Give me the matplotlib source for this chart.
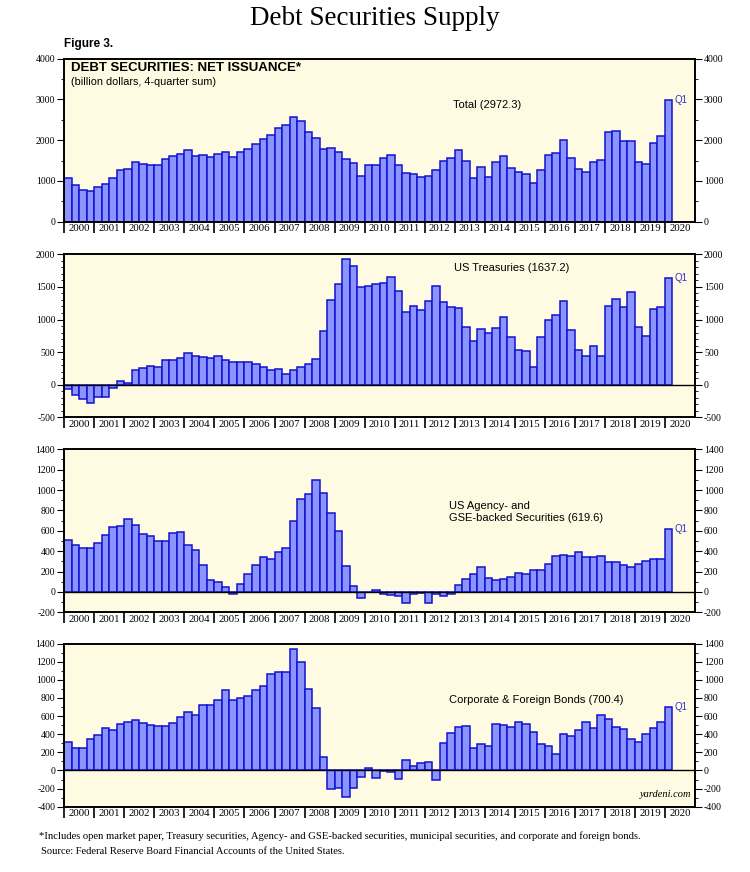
import numpy as np
import matplotlib.pyplot as plt
from matplotlib.ticker import MultipleLocator

plt.rcParams['font.family'] = ['Liberation Serif', 'DejaVu Serif']
plt.rcParams['axes.unicode_minus'] = False

# quarterly net issuance, 4-quarter sum, billion dollars (2000Q1 .. 2020Q1)
total = [1060, 890, 780, 750,
         860, 930, 1080, 1270,
         1300, 1460, 1420, 1400,
         1390, 1530, 1610, 1670,
         1750, 1610, 1630, 1580,
         1670, 1710, 1580, 1710,
         1790, 1910, 2030, 2120,
         2300, 2380, 2570, 2480,
         2190, 2050, 1790, 1810,
         1710, 1540, 1440, 1110,
         1400, 1400, 1550, 1640,
         1380, 1190, 1160, 1090,
         1120, 1260, 1490, 1570,
         1750, 1490, 1080, 1340,
         1100, 1460, 1600, 1320,
         1220, 1180, 940, 1270,
         1630, 1690, 2010, 1570,
         1290, 1210, 1470, 1520,
         2200, 2220, 1990, 1990,
         1470, 1410, 1940, 2110,
         2972.3]

treasuries = [-60, -160, -215, -280,
              -190, -185, -50, 56,
              31, 231, 262, 282,
              267, 374, 385, 416,
              487, 446, 426, 405,
              443, 380, 350, 350,
              350, 325, 275, 220,
              240, 170, 225, 272,
              318, 390, 820, 1305,
              1550, 1920, 1815, 1505,
              1520, 1540, 1560, 1650,
              1436, 1108, 1210, 1138,
              1287, 1513, 1272, 1185,
              1169, 887, 677, 856,
              790, 867, 1041, 733,
              533, 513, 277, 728,
              985, 1072, 1287, 841,
              528, 436, 590, 446,
              1200, 1308, 1190, 1415,
              892, 744, 1159, 1185,
              1637.2]

agency = [508, 462, 433, 436,
          485, 561, 639, 646,
          715, 656, 567, 548,
          502, 498, 574, 587,
          456, 413, 262, 115,
          98, 49, -23, 79,
          174, 266, 344, 328,
          390, 436, 695, 911,
          961, 1102, 974, 774,
          600, 252, 59, -62,
          -3, 20, -16, -30,
          -43, -108, -25, -15,
          -108, -25, -35, -20,
          68, 129, 180, 240,
          140, 115, 125, 151,
          187, 180, 213, 220,
          275, 357, 364, 350,
          390, 343, 343, 348,
          298, 292, 264, 246,
          275, 302, 321, 321,
          619.6]

corporate = [309, 247, 247, 346,
             387, 464, 450, 508,
             531, 553, 520, 501,
             494, 494, 520, 593,
             648, 612, 726, 726,
             781, 884, 777, 796,
             825, 884, 929, 1061,
             1083, 1087, 1337, 1194,
             895, 693, 151, -206,
             -199, -291, -199, -74,
             22, -81, -3, -15,
             -96, 118, 44, 81,
             88, -103, 302, 409,
             475, 490, 245, 295,
             265, 515, 505, 485,
             540, 515, 420, 290,
             275, 180, 400, 375,
             445, 530, 465, 610,
             565, 480, 460, 345,
             315, 400, 465, 530,
             700.4]

years = list(range(2000, 2021))

SANS = ['Liberation Sans', 'DejaVu Sans']
BAR_FILL = '#8c95ff'
BAR_EDGE = '#1212d0'
BG = '#fffbe2'

fig = plt.figure(figsize=(7.5, 8.72), dpi=100)
fig.text(0.5, 0.979, 'Debt Securities Supply', ha='center', va='center', fontsize=19.5)
fig.text(0.0857, 0.949, 'Figure 3.', ha='left', va='center', fontsize=8.5,
         fontweight='bold', family=SANS)

# (values, ymin, ymax, major, minor, bottom of axes in figure fraction)
panels = [
    (total, 0, 4000, 1000, 500, 0.7458),
    (treasuries, -500, 2000, 500, 100, 0.5214),
    (agency, -200, 1400, 200, 100, 0.2978),
    (corporate, -400, 1400, 200, 100, 0.0749),
]

axes = []
for vals, lo, hi, maj, mnr, bottom in panels:
    ax = fig.add_axes([0.0857, bottom, 0.841, 0.187])
    ax.set_facecolor(BG)
    x = 2000 + np.arange(len(vals)) * 0.25
    ax.bar(x, vals, width=0.25, align='edge', color=BAR_FILL,
           edgecolor=BAR_EDGE, linewidth=1.1, zorder=2)
    if lo < 0:
        ax.axhline(0, color='black', lw=1.0, zorder=3)
    ax.set_xlim(2000, 2021)
    ax.set_ylim(lo, hi)
    ax.yaxis.set_major_locator(MultipleLocator(maj))
    ax.yaxis.set_minor_locator(MultipleLocator(mnr))
    ax.tick_params(axis='y', which='both', left=True, right=True,
                   labelleft=True, labelright=True, direction='out',
                   labelsize=7, pad=1.5)
    ax.tick_params(axis='y', which='major', length=5, width=0.8)
    ax.tick_params(axis='y', which='minor', length=2.5, width=0.6)
    # year ticks as separators, labels centred in each year
    ax.set_xticks(years)
    ax.set_xticklabels([])
    ax.set_xticks([y + 0.5 for y in years], minor=True)
    ax.set_xticklabels([str(y) for y in years], minor=True)
    ax.tick_params(axis='x', which='major', length=8, width=1.2, direction='out')
    ax.tick_params(axis='x', which='minor', length=0, labelsize=7.8, pad=2)
    for s in ax.spines.values():
        s.set_linewidth(1.4)
    ax.text(2020.33, vals[-1], 'Q1', color='#3535c8', fontsize=7,
            va='center', ha='left', family=SANS)
    axes.append(ax)

ax1, ax2, ax3, ax4 = axes
ax1.text(0.01, 0.94, 'DEBT SECURITIES: NET ISSUANCE*', transform=ax1.transAxes,
         fontsize=9.5, fontweight='bold', family=SANS, va='center')
ax1.text(0.01, 0.855, '(billion dollars, 4-quarter sum)', transform=ax1.transAxes,
         fontsize=7.8, family=SANS, va='center')
ax1.text(0.67, 0.716, 'Total (2972.3)', transform=ax1.transAxes,
         fontsize=8, family=SANS, ha='center', va='center')
ax2.text(0.71, 0.916, 'US Treasuries (1637.2)', transform=ax2.transAxes,
         fontsize=8, family=SANS, ha='center', va='center')
ax3.text(0.61, 0.615, 'US Agency- and\nGSE-backed Securities (619.6)',
         transform=ax3.transAxes, fontsize=8, family=SANS, ha='left',
         va='center', linespacing=1.25)
ax4.text(0.61, 0.655, 'Corporate & Foreign Bonds (700.4)', transform=ax4.transAxes,
         fontsize=8, family=SANS, ha='left', va='center')
ax4.text(0.995, 0.045, 'yardeni.com', transform=ax4.transAxes, fontsize=7.5,
         style='italic', ha='right', va='bottom')

fig.text(0.052, 0.041, '*Includes open market paper, Treasury securities, Agency- and '
         'GSE-backed securities, municipal securities, and corporate and foreign bonds.',
         fontsize=7.7, ha='left', va='center')
fig.text(0.055, 0.024, 'Source: Federal Reserve Board Financial Accounts of the United States.',
         fontsize=7.6, ha='left', va='center')

fig.savefig('out.png', dpi=100, facecolor='white')
